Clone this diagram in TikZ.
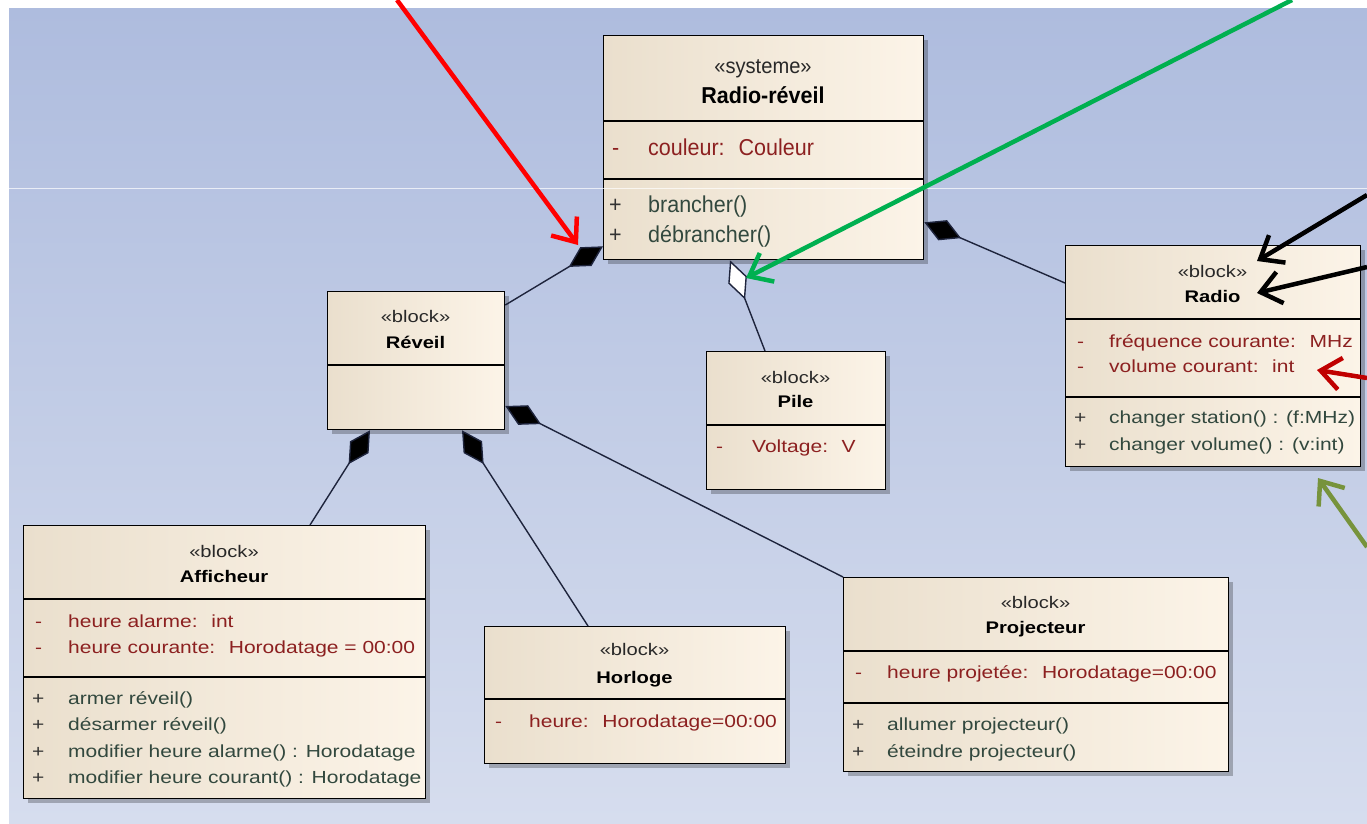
\documentclass[tikz,border=0pt]{standalone}
\usepackage{fontspec}
\setmainfont{Liberation Sans}
\newfontfamily\blkfont[FakeStretch=1.2]{Liberation Sans}
\newfontfamily\sysfont[FakeStretch=0.935]{Liberation Sans}
\usetikzlibrary{arrows.meta,calc,shadows}
\definecolor{bgTop}{RGB}{174,188,222}
\definecolor{bgBot}{RGB}{214,221,238}
\definecolor{boxL}{RGB}{234,223,205}
\definecolor{boxR}{RGB}{252,244,232}
\definecolor{attrc}{RGB}{140,32,32}
\definecolor{opc}{RGB}{50,72,62}
\definecolor{stc}{RGB}{40,40,40}
\definecolor{connc}{RGB}{30,36,60}
\definecolor{annRed}{RGB}{255,0,0}
\definecolor{annGreen}{RGB}{0,176,80}
\definecolor{annDRed}{RGB}{192,0,0}
\definecolor{annOlive}{RGB}{119,147,60}
\begin{document}
\begin{tikzpicture}[x=1pt,y=-1pt,
  umlbox/.style={draw=black,line width=1.3pt,left color=boxL,right color=boxR,inner sep=0pt,anchor=north west,
    drop shadow={shadow xshift=4pt,shadow yshift=-4pt,opacity=0.25,fill=black}},
  sepline/.style={draw=black,line width=1.3pt},
  stereo/.style={anchor=base,inner sep=0pt,text=stc,font=\blkfont\fontsize{16.8}{20}\selectfont},
  ttl/.style={anchor=base,inner sep=0pt,text=black,font=\blkfont\bfseries\fontsize{16.8}{20}\selectfont},
  attr/.style={anchor=base west,inner sep=0pt,text=attrc,font=\blkfont\fontsize{17.5}{20}\selectfont},
  oper/.style={anchor=base west,inner sep=0pt,text=opc,font=\blkfont\fontsize{17.5}{20}\selectfont},
  sign/.style={anchor=base west,inner sep=0pt,text=black!80,font=\blkfont\fontsize{17.5}{20}\selectfont},
  asign/.style={sign,text=attrc},
  sstereo/.style={anchor=base,inner sep=0pt,text=stc,font=\sysfont\fontsize{21.5}{24}\selectfont},
  sttl/.style={anchor=base,inner sep=0pt,text=black,font=\sysfont\bfseries\fontsize{23}{26}\selectfont},
  sattr/.style={anchor=base west,inner sep=0pt,text=attrc,font=\sysfont\fontsize{23}{26}\selectfont},
  soper/.style={anchor=base west,inner sep=0pt,text=opc,font=\sysfont\fontsize{23}{26}\selectfont},
  ssign/.style={anchor=base west,inner sep=0pt,text=black!80,font=\sysfont\fontsize{23}{26}\selectfont},
  conn/.style={draw=connc,line width=1.4pt},
  comp/.style={conn,{Diamond[length=40pt,width=22pt,fill=black]}-},
  aggr/.style={conn,{Diamond[length=42pt,width=20pt,fill=white]}-},
  ann/.style={line width=4.5pt,-{Straight Barb[length=20pt,width=32pt]}}
]
\useasboundingbox (0,0) rectangle (1367,823);
\fill[white] (0,0) rectangle (1367,823);
\shade[top color=bgTop,bottom color=bgBot] (9,8) rectangle (1367,823);

% ---------- Radio-reveil ----------
\node[umlbox,minimum width=320pt,minimum height=224pt] (rr) at (603,35) {};
\draw[sepline] (603,121) -- (923,121);
\draw[sepline] (603,179) -- (923,179);
\node[sstereo] (rrS) at (763,73) {«systeme»};
\node[sttl] (rrT) at (763,103) {Radio-réveil};
\node[ssign,text=attrc] (rrA1s) at (612,155) {-};
\node[sattr] (rrA1) at (648,155) {couleur:~ Couleur};
\node[ssign] (rrO1s) at (609,212) {+};
\node[soper] (rrO1) at (648,212) {brancher()};
\node[ssign] (rrO2s) at (609,242) {+};
\node[soper] (rrO2) at (648,242) {débrancher()};

% ---------- Reveil ----------
\node[umlbox,minimum width=177pt,minimum height=138pt] (rev) at (327,291) {};
\draw[sepline] (327,365) -- (504,365);
\node[stereo] (revS) at (415.5,322) {«block»};
\node[ttl] (revT) at (415.5,348) {Réveil};

% ---------- Pile ----------
\node[umlbox,minimum width=179pt,minimum height=138pt] (pile) at (706,351) {};
\draw[sepline] (706,425) -- (885,425);
\node[stereo] (pileS) at (795.5,383) {«block»};
\node[ttl] (pileT) at (795.5,407) {Pile};
\node[asign] (pileA1s) at (716,452) {-};
\node[attr] (pileA1) at (752,452) {Voltage:~ V};

% ---------- Radio ----------
\node[umlbox,minimum width=295pt,minimum height=221pt] (radio) at (1065,245) {};
\draw[sepline] (1065,319) -- (1360,319);
\draw[sepline] (1065,397) -- (1360,397);
\node[stereo] (radS) at (1212.5,277) {«block»};
\node[ttl] (radT) at (1212.5,302) {Radio};
\node[asign] (radA1s) at (1077,347) {-};
\node[attr] (radA1) at (1109,347) {fréquence courante:~ MHz};
\node[asign] (radA2s) at (1077,372) {-};
\node[attr] (radA2) at (1109,372) {volume courant:~ int};
\node[sign] (radO1s) at (1074,423) {+};
\node[oper] (radO1) at (1109,423) {changer station() : (f:MHz)};
\node[sign] (radO2s) at (1074,450) {+};
\node[oper] (radO2) at (1109,450) {changer volume() : (v:int)};

% ---------- Afficheur ----------
\node[umlbox,minimum width=402pt,minimum height=273pt] (aff) at (23,525) {};
\draw[sepline] (23,599) -- (425,599);
\draw[sepline] (23,677) -- (425,677);
\node[stereo] (affS) at (224,557) {«block»};
\node[ttl] (affT) at (224,582) {Afficheur};
\node[asign] (affA1s) at (35,627) {-};
\node[attr] (affA1) at (68,627) {heure alarme:~ int};
\node[asign] (affA2s) at (35,653) {-};
\node[attr] (affA2) at (68,653) {heure courante:~ Horodatage = 00:00};
\node[sign] (affO1s) at (32,704) {+};
\node[oper] (affO1) at (68,704) {armer réveil()};
\node[sign] (affO2s) at (32,730) {+};
\node[oper] (affO2) at (68,730) {désarmer réveil()};
\node[sign] (affO3s) at (32,757) {+};
\node[oper] (affO3) at (68,757) {modifier heure alarme() : Horodatage};
\node[sign] (affO4s) at (32,783) {+};
\node[oper] (affO4) at (68,783) {modifier heure courant() : Horodatage};

% ---------- Horloge ----------
\node[umlbox,minimum width=301pt,minimum height=137pt] (hor) at (484,626) {};
\draw[sepline] (484,699) -- (785,699);
\node[stereo] (horS) at (634.5,655) {«block»};
\node[ttl] (horT) at (634.5,683) {Horloge};
\node[asign] (horA1s) at (495,727) {-};
\node[attr] (horA1) at (529,727) {heure:~ Horodatage=00:00};

% ---------- Projecteur ----------
\node[umlbox,minimum width=385pt,minimum height=194pt] (proj) at (843,577) {};
\draw[sepline] (843,651) -- (1228,651);
\draw[sepline] (843,703) -- (1228,703);
\node[stereo] (projS) at (1035.5,608) {«block»};
\node[ttl] (projT) at (1035.5,633) {Projecteur};
\node[asign] (projA1s) at (855,678) {-};
\node[attr] (projA1) at (887,678) {heure projetée:~ Horodatage=00:00};
\node[sign] (projO1s) at (852,730) {+};
\node[oper] (projO1) at (887,730) {allumer projecteur()};
\node[sign] (projO2s) at (852,757) {+};
\node[oper] (projO2) at (887,757) {éteindre projecteur()};

% ---------- connectors ----------
\draw[comp] ($(rr.south west)+(0,-14)$) -- ($(rev.north east)+(0,14)$);
\draw[comp] ($(rr.south east)+(0,-38)$) -- ($(radio.north west)+(0,38)$);
\draw[aggr] ($(rr.south west)+(127,0)$) -- ($(pile.north west)+(59,0)$);
\draw[comp] ($(rev.south west)+(43,0)$) -- ($(aff.north west)+(287,0)$);
\draw[comp] ($(rev.south west)+(135,0)$) -- ($(hor.north west)+(104,0)$);
\draw[comp] ($(rev.north east)+(0,115)$) -- (proj.north west);

% seam line of the screenshot
\draw[white,opacity=0.7,line width=0.8pt] (9,188) -- (1367,188);

% ---------- annotation arrows ----------
\coordinate (redS) at (397,0);
\coordinate (redE) at (578,245);
\coordinate (grnS) at (1292,0);
\coordinate (grnE) at (746,278);
\coordinate (bk1S) at (1367,195);
\coordinate (bk1E) at (1257,261);
\coordinate (bk2S) at (1367,267);
\coordinate (bk2E) at (1257,293);
\coordinate (drS) at (1367,378);
\coordinate (drE) at (1317,370);
\coordinate (olS) at (1367,547);
\coordinate (olE) at (1318,478);
\draw[ann,annRed] (redS) -- (redE);
\draw[ann,annGreen] (grnS) -- (grnE);
\draw[ann,black] (bk1S) -- (bk1E);
\draw[ann,black] (bk2S) -- (bk2E);
\draw[ann,annDRed] (drS) -- (drE);
\draw[ann,annOlive] (olS) -- (olE);
\end{tikzpicture}
\end{document}
